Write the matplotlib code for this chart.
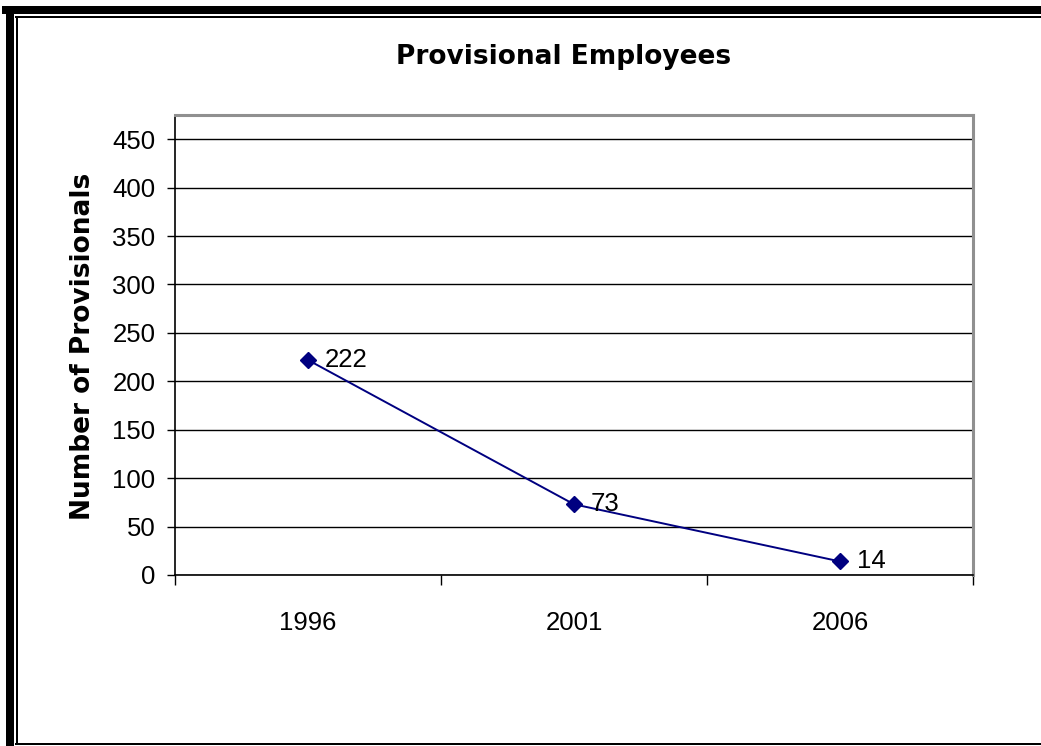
import matplotlib
matplotlib.use("Agg")
import matplotlib.pyplot as plt
from matplotlib.lines import Line2D

years = ["1996", "2001", "2006"]
provisionals = [222, 73, 14]

W, H = 1041, 746
fig = plt.figure(figsize=(W / 100, H / 100), dpi=100)
fig.patch.set_facecolor("white")

def fx(px):
    return px / W

def fy(py):
    return 1 - py / H

# excel style double frame (right side runs off the picture)
fig.add_artist(Line2D([fx(10), fx(10)], [fy(H + 5), fy(10)], color="black", lw=8 * 0.72))
fig.add_artist(Line2D([fx(6), fx(W + 5)], [fy(10), fy(10)], color="black", lw=8 * 0.72))
fig.add_artist(Line2D([fx(17), fx(17)], [fy(744), fy(17)], color="black", lw=2 * 0.72))
fig.add_artist(Line2D([fx(16), fx(W + 5)], [fy(17), fy(17)], color="black", lw=2 * 0.72))
fig.add_artist(Line2D([fx(16), fx(W + 5)], [fy(744), fy(744)], color="black", lw=2 * 0.72))

left, right, top, bottom = 175, 973, 115, 575
ax = fig.add_axes([fx(left), fy(bottom), fx(right - left), (bottom - top) / H])

x = list(range(len(years)))
ax.plot(x, provisionals, color="#000080", lw=1.4, marker="D", markersize=8,
        markerfacecolor="#000080", markeredgecolor="#000080", zorder=3)
for xi, v in zip(x, provisionals):
    ax.annotate(str(v), (xi, v), xytext=(12, 0), textcoords="offset points",
                ha="left", va="center", fontsize=18.5, family="Liberation Sans")

ax.set_xlim(-0.5, 2.5)
ax.set_ylim(0, 475)
ax.set_yticks(range(0, 451, 50))
ax.set_xticks(x)
ax.set_xticklabels(years)
ax.set_xticks([-0.5, 0.5, 1.5, 2.5], minor=True)
ax.tick_params(axis="x", which="major", length=0, pad=26)
ax.tick_params(axis="x", which="minor", length=7, width=1, color="black", direction="out")
ax.tick_params(axis="y", length=6, width=1, color="black", direction="out", pad=8)
for lab in ax.get_xticklabels() + ax.get_yticklabels():
    lab.set_fontsize(18.5)
    lab.set_family("Liberation Sans")

ax.grid(axis="y", color="black", lw=1)
ax.set_axisbelow(True)

for side in ["top", "right"]:
    ax.spines[side].set_color("#909090")
    ax.spines[side].set_linewidth(2.2)
for side in ["left", "bottom"]:
    ax.spines[side].set_color("black")
    ax.spines[side].set_linewidth(1.2)

fig.text(fx(564), fy(57), "Provisional Employees", ha="center", va="center",
         fontsize=19, fontweight="bold", family="DejaVu Sans")
fig.text(fx(83), fy(346), "Number of Provisionals", ha="center", va="center",
         rotation=90, fontsize=19, fontweight="bold", family="DejaVu Sans")

fig.savefig("out.png", dpi=100)
